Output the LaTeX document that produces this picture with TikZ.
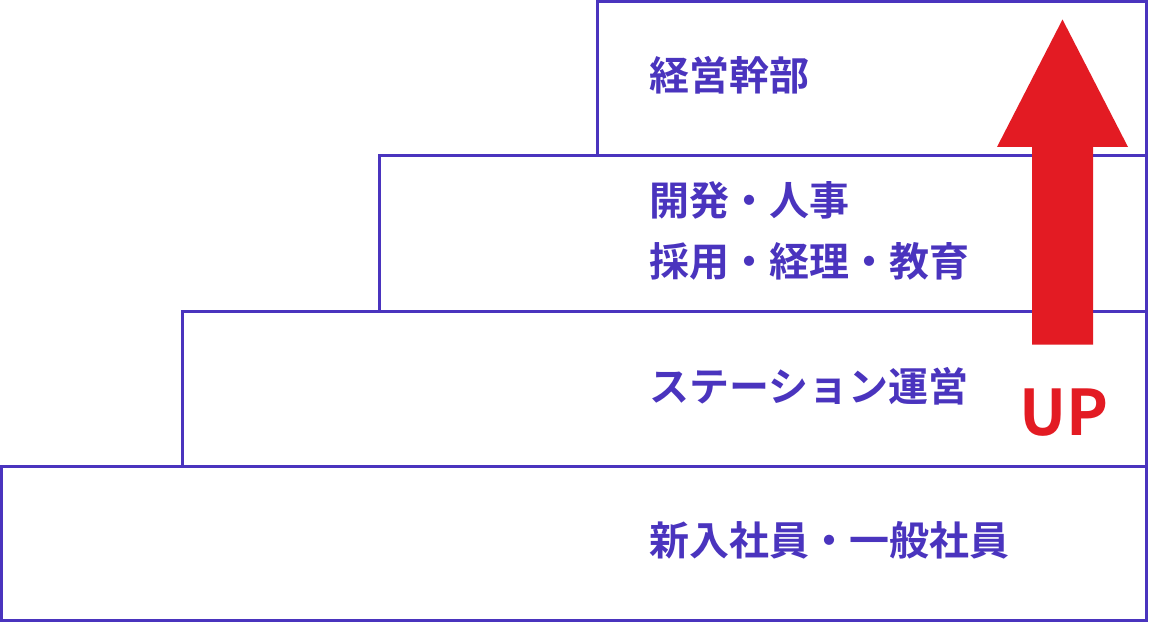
\documentclass[tikz,border=0pt]{standalone}
\usepackage{fontspec}
\newfontfamily\jpb{Noto Sans CJK JP Bold}
\definecolor{boxpurple}{RGB}{74,52,190}
\definecolor{upred}{RGB}{227,27,35}
\tikzset{
  tier/.style={draw=boxpurple, line width=3pt, fill=white},
  lbl/.style={anchor=west, inner sep=0pt, text=boxpurple, font=\jpb\fontsize{40}{61}\selectfont, align=left},
}
\begin{document}
\begin{tikzpicture}[x=1pt,y=-1pt]
\useasboundingbox (0,0) rectangle (1168,623);
\fill[white] (0,0) rectangle (1168,623);
% tiers
\draw[tier] (597.5,1.5) rectangle (1146.5,156) coordinate (t4);
\draw[tier] (379.5,156) rectangle (1146.5,311);
\draw[tier] (182.5,311) rectangle (1146.5,466);
\draw[tier] (1.5,466) rectangle (1146.5,620.5);
% labels
\node[lbl] (l4) at (649,75) {経営幹部};
\node[lbl] (l3) at (649,230.5) {開発・人事\\採用・経理・教育};
\node[lbl] (l2) at (649,386) {ステーション運営};
\node[lbl] (l1) at (649,540.5) {新入社員・一般社員};
% arrow
\fill[upred] (1032,344.5) -- (1032,147) -- (997,147) -- (1062.5,19.5) -- (1128,147) -- (1093,147) -- (1093,344.5) -- cycle;
\node[inner sep=0pt, text=upred, font=\jpb\fontsize{63}{63}\selectfont] (up) at (1064,413) {UP};
\end{tikzpicture}
\end{document}
